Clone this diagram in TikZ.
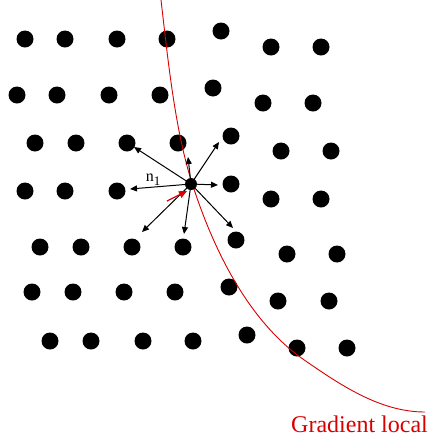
\documentclass[tikz,border=0pt]{standalone}
\usepackage{fontspec}
\setmainfont{Liberation Serif}
\usetikzlibrary{arrows.meta}
\begin{document}
\begin{tikzpicture}[x=1pt,y=-1pt,
  dot/.style={circle,fill=black,inner sep=0pt,minimum size=17pt},
  cdot/.style={circle,fill=black,inner sep=0pt,minimum size=12pt},
  vec/.style={draw=black,line width=1pt,-{Triangle[length=7pt,width=6pt]}},
  redvec/.style={draw=red!85!black,line width=1.2pt,-{Triangle[length=8pt,width=7pt]}}]
\useasboundingbox (0,0) rectangle (437,440);
% grid of dots
\foreach \x/\y [count=\i] in {25/39,65/39,117/39,167/39,221/31,271/47,321/47,
  17/95,57/95,109/95,160/95,213/88,263/103,313/103,
  35/143,76/143,127/143,178/143,231/136,281/151,331/151,
  25/191,65/191,117/191,231/184,271/199,321/199,
  40/247,81/247,132/247,183/247,236/240,287/254,337/254,
  32/292,73/292,124/292,175/292,229/287,278/301,329/301,
  50/341,91/341,143/341,193/341,247/335,297/348,347/348}
  \node[dot] (d\i) at (\x,\y) {};
% local gradient curve
\draw[red!85!black,line width=0.9pt] (161,0) .. controls (168,60) and (175,130) .. (192,183)
  .. controls (215,255) and (250,320) .. (300,357)
  .. controls (340,385) and (380,412) .. (425,412);
% centre point
\node[cdot] (c) at (191,184) {};
\coordinate (eUL) at (134,147);
\coordinate (eU) at (188,157);
\coordinate (eUR) at (219,142);
\coordinate (eL) at (130,189);
\coordinate (eR) at (218,185);
\coordinate (eLL) at (142,232);
\coordinate (eD) at (184,234);
\coordinate (eLR) at (233,228);
\coordinate (rs) at (167,201);
\coordinate (re) at (187,191);
\draw[vec] (c.center) -- (eUL);
\draw[vec] (c.center) -- (eU);
\draw[vec] (c.center) -- (eUR);
\draw[vec] (c.center) -- (eL);
\draw[vec] (c.center) -- (eR);
\draw[vec] (c.center) -- (eLL);
\draw[vec] (c.center) -- (eD);
\draw[vec] (c.center) -- (eLR);
\draw[redvec] (rs) -- (re);
\node[inner sep=0pt,font=\fontsize{16}{16}\selectfont] (n) at (153,180) {n\raisebox{-4pt}{\fontsize{13}{13}\selectfont 1}};
\node[anchor=base west,inner sep=0pt,text=red!85!black,font=\fontsize{24}{24}\selectfont] (g) at (291,432) {Gradient local};
\end{tikzpicture}
\end{document}
